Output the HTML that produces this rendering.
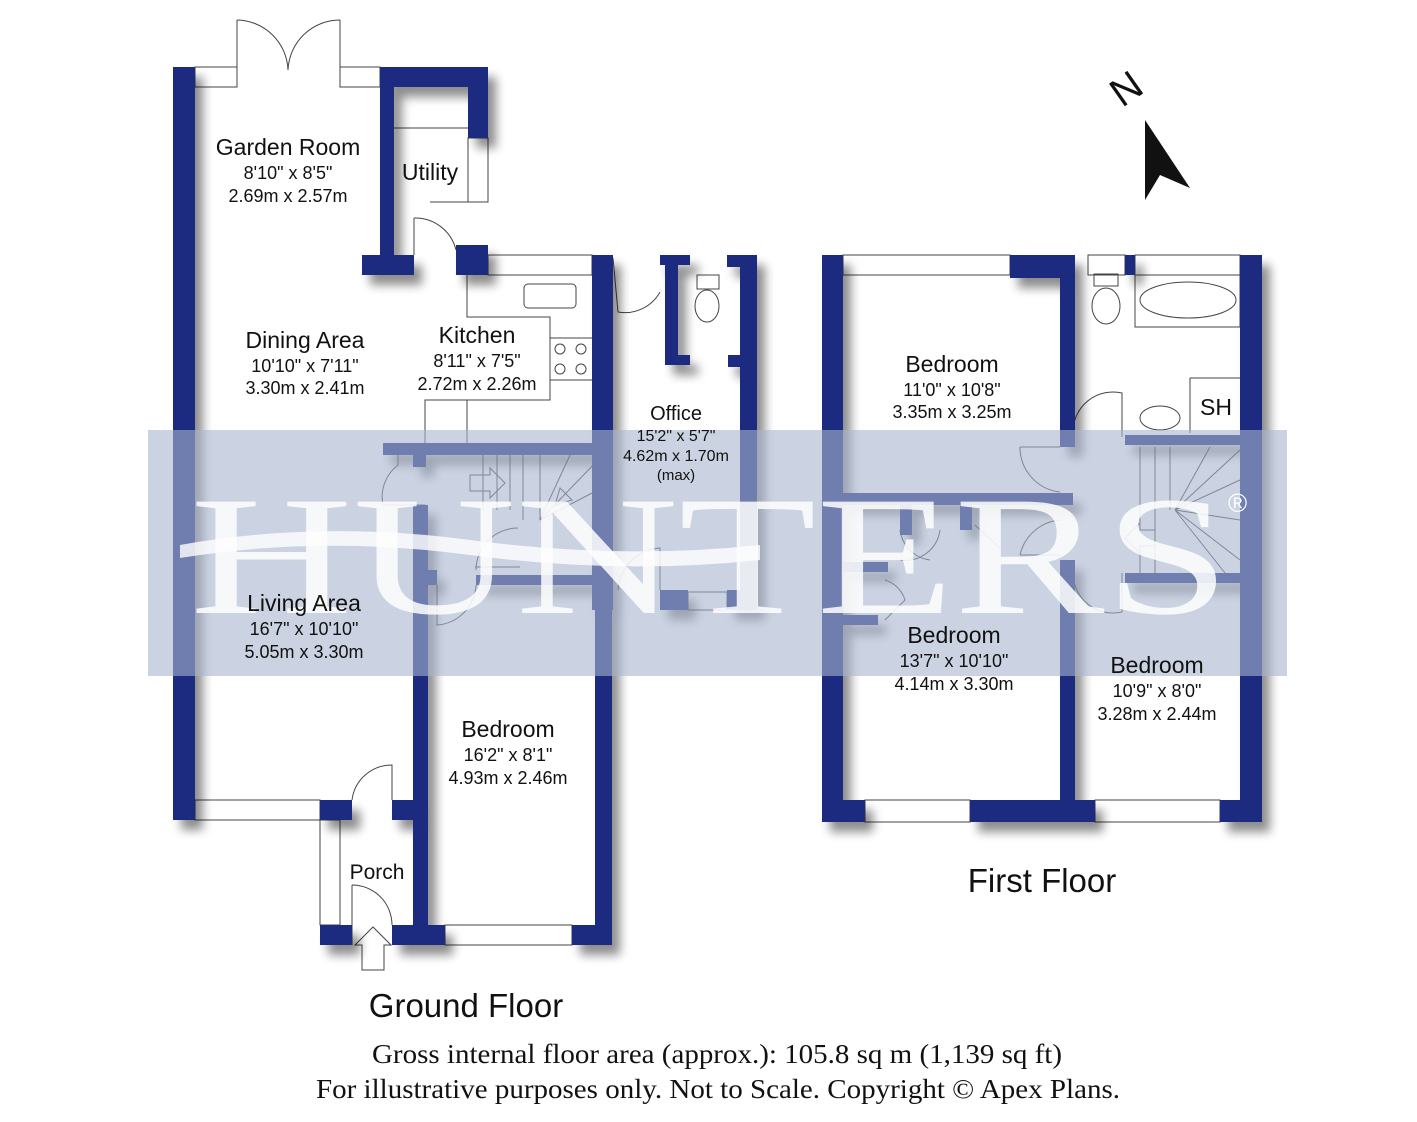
<!DOCTYPE html>
<html><head><meta charset="utf-8"><style>
html,body{margin:0;padding:0;background:#fff;}
svg{display:block;}
text{font-family:"Liberation Sans",sans-serif;fill:#111;}
.s{font-family:"Liberation Serif",serif;}
</style></head><body>
<svg width="1417" height="1122" viewBox="0 0 1417 1122" xmlns="http://www.w3.org/2000/svg">
<defs>
<filter id="sh" x="-10%" y="-10%" width="130%" height="130%">
<feGaussianBlur in="SourceAlpha" stdDeviation="5"/>
<feOffset dx="8" dy="10"/>
<feComponentTransfer><feFuncA type="linear" slope="0.45"/></feComponentTransfer>
<feMerge><feMergeNode/><feMergeNode in="SourceGraphic"/></feMerge>
</filter>
</defs>
<rect width="1417" height="1122" fill="#fff"/>

<g fill="none" stroke="#444" stroke-width="1">
<rect x="195" y="67" width="42" height="20"/><rect x="340" y="67" width="40" height="20"/>
<line x1="237" y1="20" x2="237" y2="67"/><line x1="340" y1="20" x2="340" y2="67"/>
<path d="M237 20 A52 52 0 0 1 288 70"/><path d="M340 20 A52 52 0 0 0 288 70"/>
<rect x="468" y="138" width="20" height="64"/>
<line x1="393" y1="128" x2="468" y2="128"/>
<path d="M430 202 L468 202 M414 218 L414 255"/>
<path d="M414 218 A42 42 0 0 1 456 250"/>
<rect x="488" y="255" width="104" height="20"/>
<path d="M467 275 L467 317 L550 317 L550 400 L425 400 L425 443"/>
<line x1="467" y1="400" x2="467" y2="443"/>
<rect x="524" y="284" width="52" height="24" rx="4"/>
<path d="M550 338 L592 338 M550 380 L592 380"/>
<circle cx="560" cy="349" r="5"/><circle cx="581" cy="349" r="5"/><circle cx="560" cy="369" r="5"/><circle cx="581" cy="369" r="5"/>
<path d="M613 258 L618 312 A40 40 0 0 0 660 292"/>
<ellipse cx="707" cy="306" rx="12" ry="16"/><rect x="697" y="275" width="22" height="14"/>
<rect x="688" y="592" width="39" height="18"/>
<path d="M618 590 A45 45 0 0 1 660 548 L660 590"/>
<path d="M483 455 L483 510 M497 455 L497 510 M510 455 L510 510 M523 455 L523 520 M540 455 L540 520 M540 520 L598 460 M540 520 L570 455 M540 520 L598 490"/>
<path d="M470 475 L490 475 L490 468 L505 483 L490 498 L490 491 L470 491 Z"/>
<path d="M555 505 L560 488 L572 500 Z"/>
<path d="M475 567 L520 567 M398 465 A40 40 0 0 0 383 505 M398 455 L398 465 M383 505 L425 505"/>
<path d="M476 570 A42 42 0 0 1 518 528"/>
<path d="M437 585 L437 625 A42 42 0 0 0 476 585"/>
<rect x="320" y="820" width="20" height="105"/>
<rect x="195" y="800" width="125" height="20"/>
<path d="M352 800 A40 40 0 0 1 392 765 L392 800"/>
<path d="M352 885 L352 945 M352 885 A40 40 0 0 1 392 925"/>
<path d="M362 970 L362 945 L355 945 L373 927 L391 945 L384 945 L384 970 Z"/>
<rect x="445" y="925" width="127" height="20"/>
<rect x="843" y="255" width="167" height="20"/>
<rect x="1088" y="255" width="37" height="20"/><rect x="1135" y="255" width="105" height="20"/>
<rect x="865" y="800" width="105" height="22"/><rect x="1095" y="800" width="125" height="22"/>
<ellipse cx="1106" cy="306" rx="14" ry="18"/><rect x="1094" y="274" width="24" height="12"/>
<rect x="1135" y="275" width="105" height="52"/><ellipse cx="1188" cy="300" rx="48" ry="18"/>
<path d="M1190 378 L1240 378 M1190 378 L1190 433"/>
<ellipse cx="1160" cy="418" rx="20" ry="12"/>
<path d="M1073 432 A40 40 0 0 1 1122 393 L1122 437"/>
<path d="M1020 447 L1060 447 M1020 447 A45 45 0 0 0 1060 492"/>
<path d="M1020 555 A45 45 0 0 1 1060 520 M1020 555 L1060 555"/>
<path d="M1073 573 A40 40 0 0 0 1122 612 L1122 573"/>
<path d="M1140 447 L1140 573 M1155 447 L1155 573 M1170 447 L1170 510 M1175 510 L1240 450 M1175 510 L1240 480 M1175 510 L1240 520 M1175 510 L1240 560 M1175 510 L1225 573 M1175 510 L1210 447"/>
<path d="M1155 530 L1140 530 L1140 523 L1125 538 L1140 553 L1140 546 L1155 546 Z" fill="#fff"/>
<path d="M900 530 A35 35 0 0 0 930 560 M940 530 A35 35 0 0 1 900 560 M975 525 L1000 548"/>
<path d="M885 580 A30 30 0 0 1 905 600 L885 620"/>
</g>

<g fill="#1b2a80" filter="url(#sh)">
<rect x="173" y="67" width="22" height="753"/>
<rect x="380" y="67" width="108" height="20"/>
<rect x="380" y="67" width="14" height="208"/>
<rect x="362" y="255" width="52" height="20"/>
<rect x="468" y="67" width="20" height="71"/>
<rect x="456" y="245" width="32" height="30"/>
<rect x="592" y="255" width="21" height="355"/>
<rect x="383" y="443" width="217" height="12"/>
<rect x="413" y="455" width="13" height="12"/>
<rect x="413" y="505" width="15" height="440"/>
<rect x="424" y="570" width="13" height="15"/>
<rect x="476" y="575" width="136" height="10"/>
<rect x="392" y="800" width="36" height="20"/>
<rect x="320" y="800" width="32" height="20"/>
<rect x="320" y="925" width="32" height="20"/>
<rect x="392" y="925" width="53" height="20"/>
<rect x="572" y="925" width="40" height="20"/>
<rect x="595" y="575" width="17" height="370"/>
<rect x="660" y="255" width="30" height="10"/>
<rect x="665" y="255" width="13" height="110"/>
<rect x="665" y="355" width="25" height="10"/>
<rect x="727" y="255" width="30" height="12"/>
<rect x="740" y="255" width="17" height="355"/>
<rect x="728" y="355" width="15" height="12"/>
<rect x="660" y="590" width="28" height="20"/>
<rect x="727" y="590" width="30" height="20"/>
<rect x="822" y="255" width="21" height="567"/>
<rect x="1010" y="255" width="63" height="23"/>
<rect x="1060" y="255" width="15" height="192"/>
<rect x="1125" y="255" width="10" height="20"/>
<rect x="1240" y="255" width="22" height="567"/>
<rect x="1125" y="435" width="137" height="10"/>
<rect x="843" y="493" width="230" height="12"/>
<rect x="900" y="505" width="12" height="30"/>
<rect x="960" y="505" width="12" height="25"/>
<rect x="843" y="562" width="45" height="10"/>
<rect x="843" y="615" width="35" height="10"/>
<rect x="1060" y="560" width="15" height="262"/>
<rect x="1125" y="573" width="137" height="10"/>
<rect x="822" y="800" width="43" height="22"/>
<rect x="970" y="800" width="125" height="22"/>
<rect x="1220" y="800" width="42" height="22"/>
</g>

<rect x="148" y="430" width="1139" height="246" fill="#a9b5cf" opacity="0.6"/>
<path d="M180 545 Q320 520 470 540 Q620 560 760 545 L760 560 Q620 575 470 555 Q320 535 180 558 Z" fill="#fff" opacity="0.8"/>
<text class="s" x="190" y="613" font-size="170" textLength="1040" lengthAdjust="spacingAndGlyphs" style="fill:#fff" opacity="0.85">HUNTERS</text>
<text x="1228" y="512" font-size="26" style="fill:#fff">®</text>

<g text-anchor="middle">
<text x="288" y="155" font-size="23">Garden Room</text>
<text x="288" y="179" font-size="18">8'10" x 8'5"</text>
<text x="288" y="202" font-size="18">2.69m x 2.57m</text>
<text x="430" y="180" font-size="23">Utility</text>
<text x="305" y="348" font-size="23">Dining Area</text>
<text x="305" y="372" font-size="18">10'10" x 7'11"</text>
<text x="305" y="394" font-size="18">3.30m x 2.41m</text>
<text x="477" y="343" font-size="23">Kitchen</text>
<text x="477" y="367" font-size="18">8'11" x 7'5"</text>
<text x="477" y="390" font-size="18">2.72m x 2.26m</text>
<text x="676" y="420" font-size="20">Office</text>
<text x="676" y="441" font-size="16">15'2" x 5'7"</text>
<text x="676" y="461" font-size="16">4.62m x 1.70m</text>
<text x="676" y="480" font-size="15">(max)</text>
<text x="304" y="611" font-size="23">Living Area</text>
<text x="304" y="635" font-size="18">16'7" x 10'10"</text>
<text x="304" y="658" font-size="18">5.05m x 3.30m</text>
<text x="508" y="737" font-size="23">Bedroom</text>
<text x="508" y="761" font-size="18">16'2" x 8'1"</text>
<text x="508" y="784" font-size="18">4.93m x 2.46m</text>
<text x="377" y="879" font-size="21">Porch</text>
<text x="952" y="372" font-size="23">Bedroom</text>
<text x="952" y="396" font-size="18">11'0" x 10'8"</text>
<text x="952" y="418" font-size="18">3.35m x 3.25m</text>
<text x="1216" y="415" font-size="23">SH</text>
<text x="954" y="643" font-size="23">Bedroom</text>
<text x="954" y="667" font-size="18">13'7" x 10'10"</text>
<text x="954" y="690" font-size="18">4.14m x 3.30m</text>
<text x="1157" y="673" font-size="23">Bedroom</text>
<text x="1157" y="697" font-size="18">10'9" x 8'0"</text>
<text x="1157" y="720" font-size="18">3.28m x 2.44m</text>
<text x="1042" y="892" font-size="33">First Floor</text>
<text x="466" y="1017" font-size="33">Ground Floor</text>
</g>
<text class="s" x="372" y="1063" font-size="27" textLength="690" lengthAdjust="spacingAndGlyphs">Gross internal floor area (approx.): 105.8 sq m (1,139 sq ft)</text>
<text class="s" x="316" y="1098" font-size="27" textLength="804" lengthAdjust="spacingAndGlyphs">For illustrative purposes only. Not to Scale. Copyright © Apex Plans.</text>

<text x="1112" y="100" font-size="40" transform="rotate(-35 1130 88)">N</text>
<path d="M1145 120 L1190 188 L1160 175 L1145 200 Z" fill="#111"/>
</svg>
</body></html>
